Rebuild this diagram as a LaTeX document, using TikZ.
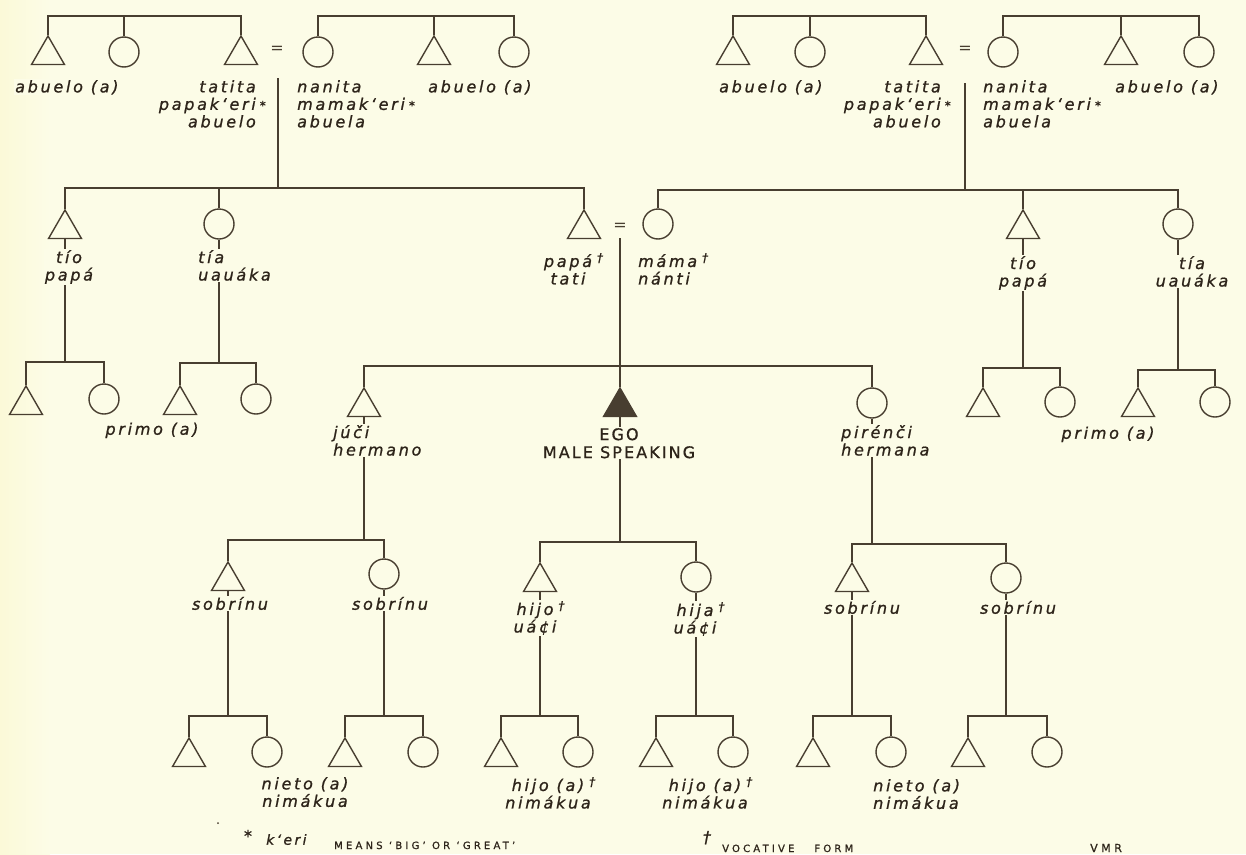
\documentclass[tikz,border=0pt]{standalone}
\usepackage{fontspec}
\setmainfont{DejaVu Sans}
\newfontfamily\labfont{DejaVu Sans}[LetterSpace=17, FakeBold=1]
\newfontfamily\capfont{DejaVu Sans}[LetterSpace=13, FakeBold=0.8]
\newfontfamily\footfont{DejaVu Sans}[LetterSpace=32, FakeBold=0.8]
\usetikzlibrary{shapes.geometric}
\definecolor{bg}{RGB}{252,252,231}
\definecolor{bgl}{RGB}{251,249,216}
\definecolor{lc}{RGB}{72,62,48}
\definecolor{tc}{RGB}{45,36,26}
\newcommand{\dg}{\rlap{\hspace{5pt}\raisebox{5pt}{\fontsize{12}{12}\selectfont †}}}
\newcommand{\as}{\rlap{\hspace{4pt}\fontsize{12}{12}\selectfont *}}
\tikzset{
  ln/.style={draw=lc, line width=1.4pt},
  male/.style={regular polygon, regular polygon sides=3, draw=lc, line width=1.4pt, minimum size=38pt, inner sep=0pt},
  female/.style={circle, draw=lc, line width=1.4pt, minimum size=30pt, inner sep=0pt},
  egotri/.style={male, fill=lc},
  lab/.style={font=\labfont\itshape\fontsize{16}{17.5}\selectfont, text=tc, fill=bg, inner sep=1pt},
  capstyle/.style={font=\capfont\fontsize{16}{18}\selectfont, text=tc, fill=bg, inner sep=1pt, align=center},
  foot/.style={font=\footfont\fontsize{10}{11}\selectfont, text=tc, inner sep=0pt},
  eqs/.style={font=\fontsize{16}{16}\selectfont, text=lc, inner sep=0pt},
}
\begin{document}
\begin{tikzpicture}[x=1pt,y=-1pt]
\useasboundingbox (0,0) rectangle (1246,854);
\fill[bg] (0,0) rectangle (1246,854);
\fill[left color=bgl, right color=bg] (0,0) rectangle (50,854);

% ---------- row 1 (grandparents' generation) ----------
\node[male]   (gL1) at (48,55) {};
\node[female] (gL2) at (124,52) {};
\node[male]   (gL3) at (241,55) {};
\node[eqs]    (eqL) at (277,50) {=};
\node[female] (gL4) at (318,52) {};
\node[male]   (gL5) at (434,55) {};
\node[female] (gL6) at (514,52) {};

\node[male]   (gR1) at (733,55) {};
\node[female] (gR2) at (810,52) {};
\node[male]   (gR3) at (926,55) {};
\node[eqs]    (eqR) at (965,50) {=};
\node[female] (gR4) at (1003,52) {};
\node[male]   (gR5) at (1121,55) {};
\node[female] (gR6) at (1199,52) {};

% ---------- row 2 ----------
\node[male]   (tioL) at (65,229) {};
\node[female] (tiaL) at (219,224) {};
\node[male]   (papa) at (584,229) {};
\node[eqs]    (eqM)  at (620,227) {=};
\node[female] (mama) at (658,224) {};
\node[male]   (tioR) at (1023,229) {};
\node[female] (tiaR) at (1178,224) {};

% ---------- row 3 ----------
\node[male]   (p1) at (26,405) {};
\node[female] (p2) at (104,399) {};
\node[male]   (p3) at (180,405) {};
\node[female] (p4) at (256,399) {};
\node[male]   (juci) at (364,407) {};
\node[egotri] (ego) at (620,407) {};
\node[female] (pirenci) at (872,403) {};
\node[male]   (p5) at (983,407) {};
\node[female] (p6) at (1060,402) {};
\node[male]   (p7) at (1138,407) {};
\node[female] (p8) at (1215,402) {};

% ---------- row 4 ----------
\node[male]   (n1) at (228,581) {};
\node[female] (n2) at (384,574) {};
\node[male]   (h1) at (540,582) {};
\node[female] (h2) at (696,577) {};
\node[male]   (n3) at (852,582) {};
\node[female] (n4) at (1006,578) {};

% ---------- row 5 ----------
\node[male]   (c1) at (189,757) {};
\node[female] (c2) at (267,752) {};
\node[male]   (c3) at (345,757) {};
\node[female] (c4) at (423,752) {};
\node[male]   (c5) at (501,757) {};
\node[female] (c6) at (578,752) {};
\node[male]   (c7) at (656,757) {};
\node[female] (c8) at (733,752) {};
\node[male]   (c9) at (813,757) {};
\node[female] (c10) at (891,752) {};
\node[male]   (c11) at (968,757) {};
\node[female] (c12) at (1047,752) {};

% ---------- bar levels and free ends ----------
\coordinate (b1) at (0,16);
\coordinate (b2L) at (0,188);
\coordinate (b2R) at (0,190);
\coordinate (b3) at (0,366);
\coordinate (b3a) at (0,362);
\coordinate (b3b) at (0,363);
\coordinate (b3c) at (0,368);
\coordinate (b3d) at (0,370);
\coordinate (b4a) at (0,540);
\coordinate (b4b) at (0,542);
\coordinate (b4c) at (0,544);
\coordinate (b5) at (0,716);
\coordinate (mL) at (278,78);
\coordinate (mR) at (965,83);
\coordinate (mM) at (620,238);

% ---------- connectors ----------
\draw[ln] (gL1.north) |- (b1 -| gL3.north) -- (gL3.north);
\draw[ln] (gL2.north) -- (gL2.north |- b1);
\draw[ln] (gL4.north) |- (b1 -| gL6.north) -- (gL6.north);
\draw[ln] (gL5.north) -- (gL5.north |- b1);
\draw[ln] (gR1.north) |- (b1 -| gR3.north) -- (gR3.north);
\draw[ln] (gR2.north) -- (gR2.north |- b1);
\draw[ln] (gR4.north) |- (b1 -| gR6.north) -- (gR6.north);
\draw[ln] (gR5.north) -- (gR5.north |- b1);

\draw[ln] (tioL.north) |- (b2L -| papa.north) -- (papa.north);
\draw[ln] (tiaL.north) -- (tiaL.north |- b2L);
\draw[ln] (mL) -- (mL |- b2L);
\draw[ln] (mama.north) |- (b2R -| tiaR.north) -- (tiaR.north);
\draw[ln] (tioR.north) -- (tioR.north |- b2R);
\draw[ln] (mR) -- (mR |- b2R);

\draw[ln] (mM) -- (ego.north);
\draw[ln] (juci.north) |- (b3 -| pirenci.north) -- (pirenci.north);

\draw[ln] (tioL.south) -- (tioL.south |- b3a);
\draw[ln] (p1.north) |- (b3a -| p2.north) -- (p2.north);
\draw[ln] (tiaL.south) -- (tiaL.south |- b3b);
\draw[ln] (p3.north) |- (b3b -| p4.north) -- (p4.north);
\draw[ln] (tioR.south) -- (tioR.south |- b3c);
\draw[ln] (p5.north) |- (b3c -| p6.north) -- (p6.north);
\draw[ln] (tiaR.south) -- (tiaR.south |- b3d);
\draw[ln] (p7.north) |- (b3d -| p8.north) -- (p8.north);

\draw[ln] (juci.south) -- (juci.south |- b4a);
\draw[ln] (n1.north) |- (b4a -| n2.north) -- (n2.north);
\draw[ln] (ego.south) -- (ego.south |- b4b);
\draw[ln] (h1.north) |- (b4b -| h2.north) -- (h2.north);
\draw[ln] (pirenci.south) -- (pirenci.south |- b4c);
\draw[ln] (n3.north) |- (b4c -| n4.north) -- (n4.north);

\draw[ln] (n1.south) -- (n1.south |- b5);
\draw[ln] (c1.north) |- (b5 -| c2.north) -- (c2.north);
\draw[ln] (n2.south) -- (n2.south |- b5);
\draw[ln] (c3.north) |- (b5 -| c4.north) -- (c4.north);
\draw[ln] (h1.south) -- (h1.south |- b5);
\draw[ln] (c5.north) |- (b5 -| c6.north) -- (c6.north);
\draw[ln] (h2.south) -- (h2.south |- b5);
\draw[ln] (c7.north) |- (b5 -| c8.north) -- (c8.north);
\draw[ln] (n3.south) -- (n3.south |- b5);
\draw[ln] (c9.north) |- (b5 -| c10.north) -- (c10.north);
\draw[ln] (n4.south) -- (n4.south |- b5);
\draw[ln] (c11.north) |- (b5 -| c12.north) -- (c12.north);

% ---------- labels ----------
\node[lab, anchor=north west] (lab1) at (14,79) {abuelo (a)};
\node[lab, anchor=north east, align=right] (lab2) at (257,79) {tatita\\papakʻeri\as\\abuelo};
\node[lab, anchor=north west, align=left] (lab3) at (296,79) {nanita\\mamakʻeri\as\\abuela};
\node[lab, anchor=north west] (lab4) at (427,79) {abuelo (a)};
\node[lab, anchor=north west] (lab5) at (718,79) {abuelo (a)};
\node[lab, anchor=north east, align=right] (lab6) at (942,79) {tatita\\papakʻeri\as\\abuelo};
\node[lab, anchor=north west, align=left] (lab7) at (982,79) {nanita\\mamakʻeri\as\\abuela};
\node[lab, anchor=north west] (lab8) at (1114,79) {abuelo (a)};

\node[lab, anchor=north, align=center] (lab9) at (69,249) {tío\\papá};
\node[lab, anchor=north west, align=left] (lab10) at (197,249) {tía\\uauáka};
\node[lab, anchor=north, align=center] (lab11) at (568,252) {papá\dg\\tati};
\node[lab, anchor=north west, align=left] (lab12) at (637,252) {máma\dg\\nánti};
\node[lab, anchor=north, align=center] (lab13) at (1023,255) {tío\\papá};
\node[lab, anchor=north, align=center] (lab14) at (1192,255) {tía\\uauáka};

\node[lab, anchor=mid] (lab15) at (152,432) {primo (a)};
\node[lab, anchor=mid] (lab16) at (1108,436) {primo (a)};
\node[lab, anchor=north west, align=left] (lab17) at (332,424) {júči\\hermano};
\node[capstyle, anchor=north] (lab18) at (619,427) {EGO\\MALE SPEAKING};
\node[lab, anchor=north west, align=left] (lab19) at (840,424) {pirénči\\hermana};

\node[lab, anchor=mid] (lab20) at (230,607) {sobrínu};
\node[lab, anchor=mid] (lab21) at (390,607) {sobrínu};
\node[lab, anchor=north, align=center] (lab22) at (535,600) {hijo\dg\\uá¢i};
\node[lab, anchor=north, align=center] (lab23) at (695,601) {hija\dg\\uá¢i};
\node[lab, anchor=mid] (lab24) at (862,611) {sobrínu};
\node[lab, anchor=mid] (lab25) at (1018,611) {sobrínu};

\node[lab, anchor=north, align=center] (lab26) at (305,776) {nieto (a)\\nimákua};
\node[lab, anchor=north, align=center] (lab27) at (548,776) {hijo (a)\dg\\nimákua};
\node[lab, anchor=north, align=center] (lab28) at (705,776) {hijo (a)\dg\\nimákua};
\node[lab, anchor=north west, align=left] (lab29) at (872,778) {nieto (a)\\nimákua};

% ---------- footer ----------
\fill[lc] (218,823) circle (1pt);
\node[lab, fill=none, anchor=mid] (ast) at (248,839) {*};
\node[lab, fill=none, anchor=mid west, font=\labfont\itshape\fontsize{14}{14}\selectfont] (keri) at (265,842) {kʻeri};
\node[foot, anchor=base west] (means) at (334,849) {MEANS ‘BIG’ OR ‘GREAT’};
\node[lab, fill=none, anchor=mid] (dag) at (707,840) {†};
\node[foot, anchor=base west] (voc) at (722,852) {VOCATIVE\hspace{20pt}FORM};
\node[foot, anchor=base west, font=\footfont\fontsize{11}{12}\selectfont] (vmr) at (1090,852) {VMR};
\end{tikzpicture}
\end{document}
